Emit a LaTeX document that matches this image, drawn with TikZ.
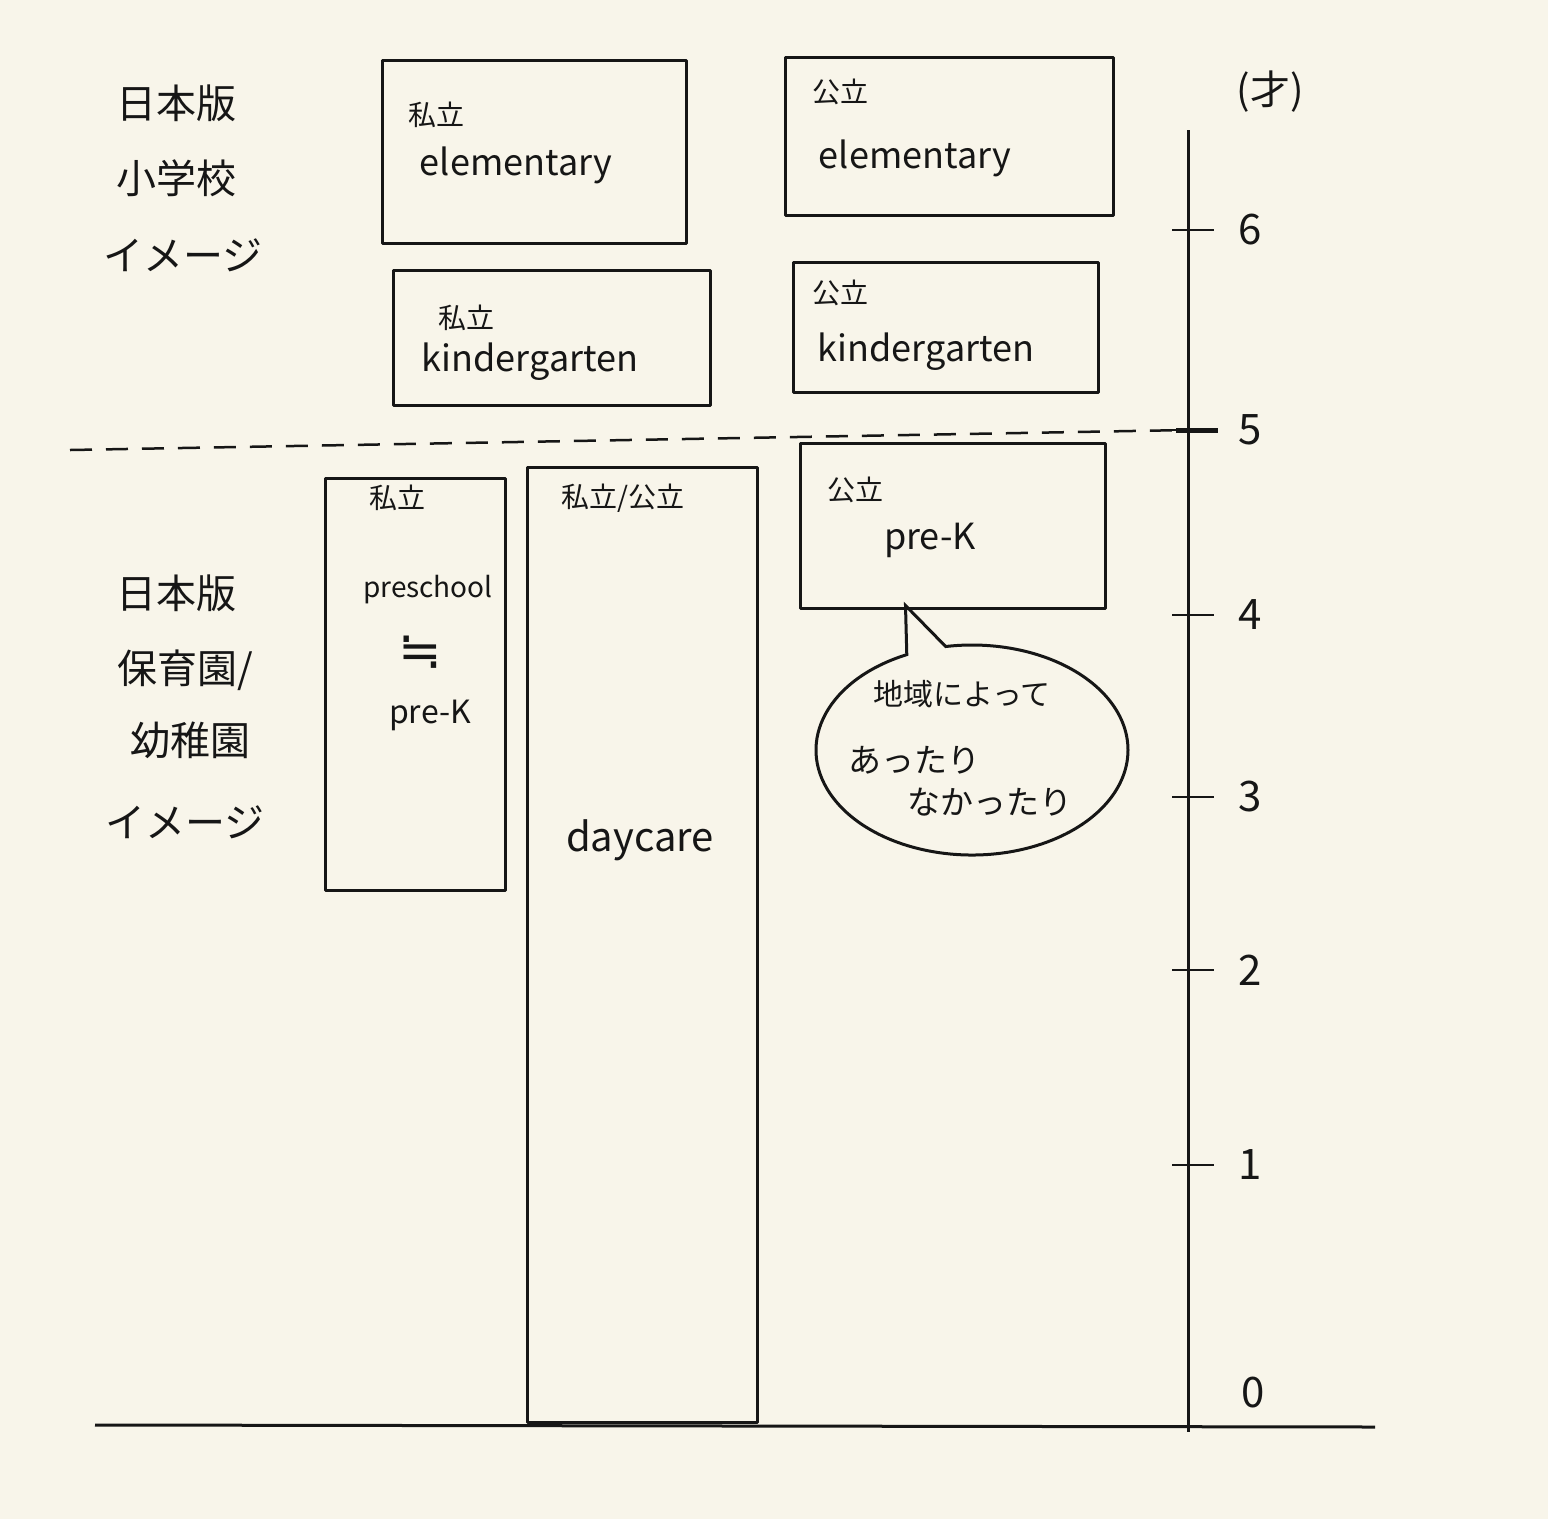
\documentclass[tikz,border=0pt]{standalone}
\usepackage{fontspec}
\setmainfont{Noto Sans CJK JP}
\newfontfamily\symfont{DejaVu Sans}
\usetikzlibrary{shapes.callouts,calc}
\definecolor{paper}{RGB}{248,245,234}
\definecolor{ink}{RGB}{22,22,22}
\begin{document}
\begin{tikzpicture}[x=1pt,y=-1pt,line width=3pt,draw=ink,text=ink,
  box/.style={draw,rectangle,inner sep=0pt,line join=round},
  big/.style={font=\fontsize{40}{44}\selectfont,inner sep=0pt},
  tag/.style={font=\fontsize{28}{30}\selectfont,inner sep=0pt},
  word/.style={font=\fontsize{36}{40}\selectfont,inner sep=0pt},
  num/.style={font=\fontsize{42}{46}\selectfont,inner sep=0pt},
  bub/.style={font=\fontsize{33}{36}\selectfont,inner sep=0pt},
  tickline/.style={line width=2.5pt}]
\fill[paper] (0,0) rectangle (1548,1519);
\useasboundingbox (0,0) rectangle (1548,1519);

% left labels
\node[big] (l1) at (176,103) {日本版};
\node[big] (l2) at (176,178) {小学校};
\node[big] (l3) at (183,255) {イメージ};
\node[big] (m1) at (176,593) {日本版};
\node[big] (m2) at (185,670) {保育園/};
\node[big] (m3) at (190,740) {幼稚園};
\node[big] (m4) at (185,822) {イメージ};

% top boxes
\node[box,minimum width=304,minimum height=183] (pe) at (534,151.5) {};
\node[tag] (pet) at (436,115) {私立};
\node[word] (pew) at (516,165) {elementary};

\node[box,minimum width=328,minimum height=158] (ue) at (949,136) {};
\node[tag] (uet) at (840,92) {公立};
\node[word] (uew) at (915,158) {elementary};

\node[box,minimum width=317,minimum height=135] (pk) at (551.5,337.5) {};
\node[tag] (pkt) at (466,318) {私立};
\node[word] (pkw) at (530,362) {kindergarten};

\node[box,minimum width=305,minimum height=130] (uk) at (945.5,327) {};
\node[tag] (ukt) at (840,293) {公立};
\node[word] (ukw) at (926,352) {kindergarten};

% lower boxes
\node[box,minimum width=180,minimum height=412] (pp) at (415,684) {};
\node[tag] (ppt) at (397,498) {私立};
\node[font=\fontsize{28}{30}\selectfont,inner sep=0pt] (ppw) at (428,590) {preschool};
\node[font=\symfont\fontsize{52}{56}\selectfont,inner sep=0pt] (ppeq) at (420,652) {≒};
\node[font=\fontsize{32}{34}\selectfont,inner sep=0pt] (ppk) at (430,715) {pre-K};

\node[box,minimum width=230,minimum height=955] (dc) at (642,945) {};
\node[tag] (dct) at (623,498) {私立/公立};
\node[font=\fontsize{40}{44}\selectfont,inner sep=0pt] (dcw) at (640,840) {daycare};

\node[box,minimum width=305,minimum height=165] (upk) at (952.5,525.5) {};
\node[tag] (upkt) at (855,490) {公立};
\node[word] (upkw) at (930,540) {pre-K};

\coordinate (tip) at ($(upk.south)+(-47,-4)$);
\node[draw,ellipse callout,minimum width=312,minimum height=210,
      callout absolute pointer={(tip)},inner sep=0pt] (bubble) at (972,750) {};
\node[font=\fontsize{30}{34}\selectfont,inner sep=0pt] (b1) at (962,694) {地域によって};
\node[bub] (b2) at (914,760) {あったり};
\node[bub] (b3) at (990,802) {なかったり};

% axis
\coordinate (atop) at (1188,130);
\coordinate (abot) at (1188,1432);
\draw (atop) -- (abot);
\node[font=\fontsize{40}{44}\selectfont,inner sep=0pt] (unit) at (1270,92) {(才)};
\foreach \v/\y in {6/230,5/430,4/615,3/797,2/970,1/1165}{
  \coordinate (t\v) at (1188,\y);
  \draw[tickline] ($(t\v)+(-16,0)$) -- ($(t\v)+(26,0)$);
  \node[num] (n\v) at ($(t\v)+(62,0)$) {\v};
}
\draw[line width=5pt] ($(t5)+(-12,0)$) -- ($(t5)+(30,0)$);
\node[num] (n0) at (1253,1393) {0};

% dashed boundary at 5 years
\coordinate (dl) at (70,450);
\draw[line width=2.5pt,dash pattern=on 22pt off 14pt] (dl) -- (t5);

% baseline
\coordinate (bl) at (95,1425);
\coordinate (br) at (1375,1427);
\draw (bl) -- (br);
\end{tikzpicture}
\end{document}
